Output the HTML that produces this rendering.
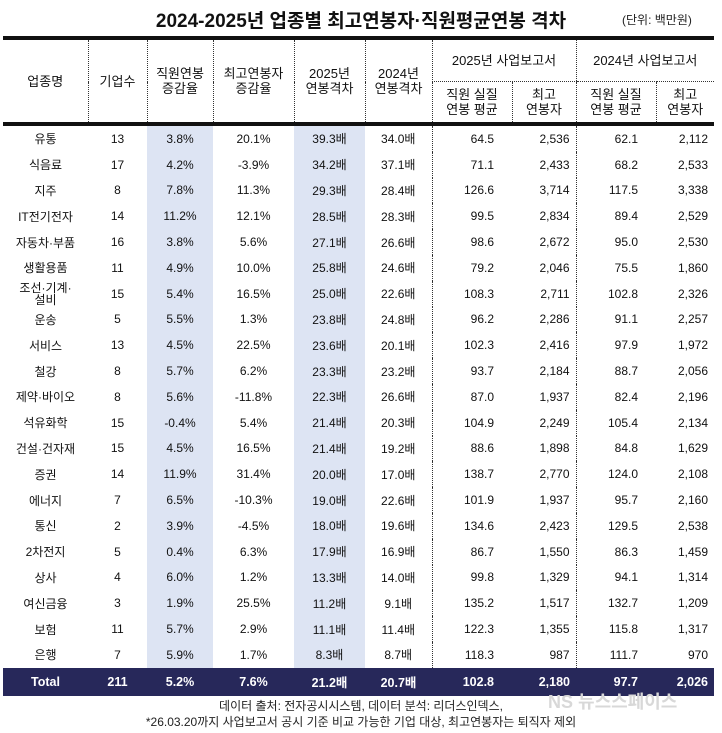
<!DOCTYPE html>
<html><head><meta charset="utf-8"><style>
body{margin:0;background:#fff;width:722px;height:733px;position:relative;font-family:"Liberation Sans","Noto Sans CJK KR",sans-serif;color:#111;overflow:hidden}
.t{position:absolute;top:6px;left:0;width:722px;text-align:center;font-size:19px;font-weight:bold}
.u{position:absolute;top:11px;left:622px;font-size:12px;color:#222}
table{position:absolute;left:3px;top:36px;border-collapse:collapse;width:711px;font-size:12px}
td,th{padding:0;text-align:center;white-space:nowrap}
th{font-weight:normal;font-size:13px;line-height:15px}
thead tr.a th{height:41px}
thead tr.b th{height:40px}
thead{border-top:4px solid #111;border-bottom:4px solid #111}
tbody td{height:25.8px}
.d{border-left:1px dotted #333}
.b1{background:#dde4f3}
.r{text-align:right;padding-right:6px}
.p{padding-right:18px}
tr.tot td{background:#27285a;color:#fff;font-weight:bold;height:28px;font-size:12.5px}
.f{position:absolute;left:0;width:722px;text-align:center;font-size:12px;color:#222}
.ns{position:absolute;left:548px;top:688px;font-size:18px;font-weight:bold;color:#d8d8d8}
</style></head><body>
<div class="t">2024-2025년 업종별 최고연봉자·직원평균연봉 격차</div>
<div class="u">(단위: 백만원)</div>
<table>
<colgroup><col style="width:85px"><col style="width:59px"><col style="width:66px"><col style="width:81px"><col style="width:71px"><col style="width:67px"><col style="width:80px"><col style="width:64px"><col style="width:80px"><col style="width:58px"></colgroup>
<thead>
<tr class="a"><th rowspan="2">업종명</th><th rowspan="2" class="d">기업수</th><th rowspan="2" class="d">직원연봉<br>증감율</th><th rowspan="2" class="d">최고연봉자<br>증감율</th><th rowspan="2" class="d">2025년<br>연봉격차</th><th rowspan="2" class="d">2024년<br>연봉격차</th><th colspan="2" class="d" style="border-bottom:1px dotted #333">2025년 사업보고서</th><th colspan="2" class="d" style="border-bottom:1px dotted #333">2024년 사업보고서</th></tr>
<tr class="b"><th class="d">직원 실질<br>연봉 평균</th><th class="d">최고<br>연봉자</th><th class="d">직원 실질<br>연봉 평균</th><th class="d">최고<br>연봉자</th></tr>
</thead>
<tbody>
<tr><td>유통</td><td>13</td><td class="b1">3.8%</td><td>20.1%</td><td class="b1">39.3배</td><td>34.0배</td><td class="d r p">64.5</td><td class="r">2,536</td><td class="d r p">62.1</td><td class="r">2,112</td></tr>
<tr><td>식음료</td><td>17</td><td class="b1">4.2%</td><td>-3.9%</td><td class="b1">34.2배</td><td>37.1배</td><td class="d r p">71.1</td><td class="r">2,433</td><td class="d r p">68.2</td><td class="r">2,533</td></tr>
<tr><td>지주</td><td>8</td><td class="b1">7.8%</td><td>11.3%</td><td class="b1">29.3배</td><td>28.4배</td><td class="d r p">126.6</td><td class="r">3,714</td><td class="d r p">117.5</td><td class="r">3,338</td></tr>
<tr><td>IT전기전자</td><td>14</td><td class="b1">11.2%</td><td>12.1%</td><td class="b1">28.5배</td><td>28.3배</td><td class="d r p">99.5</td><td class="r">2,834</td><td class="d r p">89.4</td><td class="r">2,529</td></tr>
<tr><td>자동차·부품</td><td>16</td><td class="b1">3.8%</td><td>5.6%</td><td class="b1">27.1배</td><td>26.6배</td><td class="d r p">98.6</td><td class="r">2,672</td><td class="d r p">95.0</td><td class="r">2,530</td></tr>
<tr><td>생활용품</td><td>11</td><td class="b1">4.9%</td><td>10.0%</td><td class="b1">25.8배</td><td>24.6배</td><td class="d r p">79.2</td><td class="r">2,046</td><td class="d r p">75.5</td><td class="r">1,860</td></tr>
<tr><td style="line-height:12px">조선·기계·<br>설비</td><td>15</td><td class="b1">5.4%</td><td>16.5%</td><td class="b1">25.0배</td><td>22.6배</td><td class="d r p">108.3</td><td class="r">2,711</td><td class="d r p">102.8</td><td class="r">2,326</td></tr>
<tr><td>운송</td><td>5</td><td class="b1">5.5%</td><td>1.3%</td><td class="b1">23.8배</td><td>24.8배</td><td class="d r p">96.2</td><td class="r">2,286</td><td class="d r p">91.1</td><td class="r">2,257</td></tr>
<tr><td>서비스</td><td>13</td><td class="b1">4.5%</td><td>22.5%</td><td class="b1">23.6배</td><td>20.1배</td><td class="d r p">102.3</td><td class="r">2,416</td><td class="d r p">97.9</td><td class="r">1,972</td></tr>
<tr><td>철강</td><td>8</td><td class="b1">5.7%</td><td>6.2%</td><td class="b1">23.3배</td><td>23.2배</td><td class="d r p">93.7</td><td class="r">2,184</td><td class="d r p">88.7</td><td class="r">2,056</td></tr>
<tr><td>제약·바이오</td><td>8</td><td class="b1">5.6%</td><td>-11.8%</td><td class="b1">22.3배</td><td>26.6배</td><td class="d r p">87.0</td><td class="r">1,937</td><td class="d r p">82.4</td><td class="r">2,196</td></tr>
<tr><td>석유화학</td><td>15</td><td class="b1">-0.4%</td><td>5.4%</td><td class="b1">21.4배</td><td>20.3배</td><td class="d r p">104.9</td><td class="r">2,249</td><td class="d r p">105.4</td><td class="r">2,134</td></tr>
<tr><td>건설·건자재</td><td>15</td><td class="b1">4.5%</td><td>16.5%</td><td class="b1">21.4배</td><td>19.2배</td><td class="d r p">88.6</td><td class="r">1,898</td><td class="d r p">84.8</td><td class="r">1,629</td></tr>
<tr><td>증권</td><td>14</td><td class="b1">11.9%</td><td>31.4%</td><td class="b1">20.0배</td><td>17.0배</td><td class="d r p">138.7</td><td class="r">2,770</td><td class="d r p">124.0</td><td class="r">2,108</td></tr>
<tr><td>에너지</td><td>7</td><td class="b1">6.5%</td><td>-10.3%</td><td class="b1">19.0배</td><td>22.6배</td><td class="d r p">101.9</td><td class="r">1,937</td><td class="d r p">95.7</td><td class="r">2,160</td></tr>
<tr><td>통신</td><td>2</td><td class="b1">3.9%</td><td>-4.5%</td><td class="b1">18.0배</td><td>19.6배</td><td class="d r p">134.6</td><td class="r">2,423</td><td class="d r p">129.5</td><td class="r">2,538</td></tr>
<tr><td>2차전지</td><td>5</td><td class="b1">0.4%</td><td>6.3%</td><td class="b1">17.9배</td><td>16.9배</td><td class="d r p">86.7</td><td class="r">1,550</td><td class="d r p">86.3</td><td class="r">1,459</td></tr>
<tr><td>상사</td><td>4</td><td class="b1">6.0%</td><td>1.2%</td><td class="b1">13.3배</td><td>14.0배</td><td class="d r p">99.8</td><td class="r">1,329</td><td class="d r p">94.1</td><td class="r">1,314</td></tr>
<tr><td>여신금융</td><td>3</td><td class="b1">1.9%</td><td>25.5%</td><td class="b1">11.2배</td><td>9.1배</td><td class="d r p">135.2</td><td class="r">1,517</td><td class="d r p">132.7</td><td class="r">1,209</td></tr>
<tr><td>보험</td><td>11</td><td class="b1">5.7%</td><td>2.9%</td><td class="b1">11.1배</td><td>11.4배</td><td class="d r p">122.3</td><td class="r">1,355</td><td class="d r p">115.8</td><td class="r">1,317</td></tr>
<tr><td>은행</td><td>7</td><td class="b1">5.9%</td><td>1.7%</td><td class="b1">8.3배</td><td>8.7배</td><td class="d r p">118.3</td><td class="r">987</td><td class="d r p">111.7</td><td class="r">970</td></tr>
<tr class="tot"><td>Total</td><td>211</td><td>5.2%</td><td>7.6%</td><td>21.2배</td><td>20.7배</td><td class="r p">102.8</td><td class="r">2,180</td><td class="r p">97.7</td><td class="r">2,026</td></tr>
</tbody>
</table>
<div class="ns">NS 뉴스스페이스</div>
<div class="f" style="top:697px">데이터 출처: 전자공시시스템, 데이터 분석: 리더스인덱스,</div>
<div class="f" style="top:713px">*26.03.20까지 사업보고서 공시 기준 비교 가능한 기업 대상, 최고연봉자는 퇴직자 제외</div>
</body></html>
